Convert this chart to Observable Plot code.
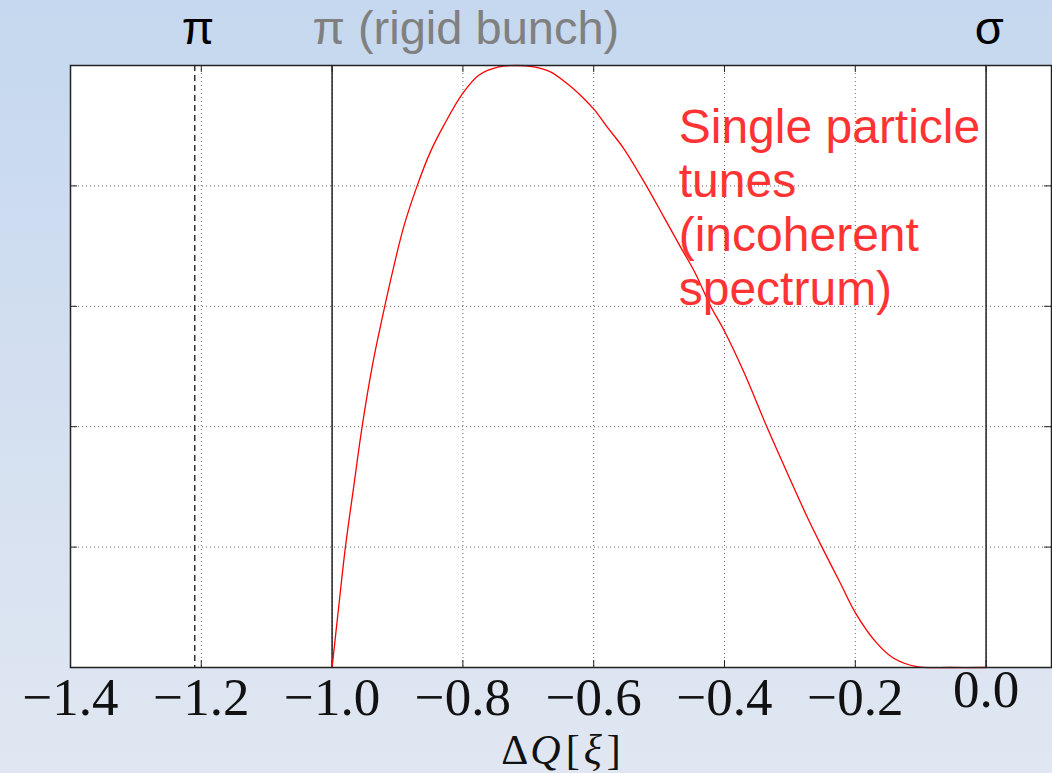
<!DOCTYPE html>
<html>
<head>
<meta charset="utf-8">
<script src="https://cdn.jsdelivr.net/npm/d3@7"></script>
<script src="https://cdn.jsdelivr.net/npm/@observablehq/plot@0.6"></script>
<style>
  html, body { margin: 0; padding: 0; }
  body {
    width: 1052px; height: 773px; overflow: hidden;
    background: linear-gradient(to bottom, #c5d8ef 0%, #d3dff0 50%, #e0e7f2 100%);
  }
</style>
</head>
<body>
<div id="chart"></div>
<script>
// Red curve: incoherent spectrum (single particle tunes)
const dq = [-1.0, -0.9899, -0.9797, -0.967, -0.9541, -0.9388, -0.9235, -0.9058, -0.8905, -0.870,
  -0.8497, -0.829, -0.8003, -0.7757, -0.7451, -0.7171, -0.6917, -0.6662, -0.6407, -0.6152,
  -0.5985, -0.5795, -0.5541, -0.5194, -0.4929, -0.4674, -0.4445, -0.4216, -0.4012, -0.3706,
  -0.3349, -0.2992, -0.2737, -0.2508, -0.2228, -0.1994, -0.1667, -0.1413, -0.1055, -0.0546, 0.0];
const density = [0, 0.101, 0.1996, 0.300, 0.400, 0.4995, 0.580, 0.6656, 0.732, 0.800,
  0.8565, 0.9009, 0.9535, 0.9839, 0.9977, 1.0, 0.9977, 0.9894, 0.970, 0.9452,
  0.9258, 0.898, 0.862, 0.800, 0.7486, 0.6988, 0.6546, 0.601, 0.561, 0.4912,
  0.3989, 0.3114, 0.2504, 0.1996, 0.140, 0.090, 0.040, 0.0153, 0.0013, 0, 0];

// Mode lines
const solidModes = [-1.0, 0.0];
const dashedModes = [-1.21];

// Top labels
const topLabels = ["π", "π (rigid bunch)", "σ"];
const topLabelX = [-1.205, -1.03, 0.005];
const topLabelColor = ["#000000", "#808080", "#000000"];
const topLabelAnchor = ["middle", "start", "middle"];

// Annotation
const noteText = "Single particle\ntunes\n(incoherent\nspectrum)";
const noteX = -0.47;
const noteY = 0.934;

// Axis ticks
const xTicks = [-1.4, -1.2, -1.0, -0.8, -0.6, -0.4, -0.2, 0.0];
const xNegTicks = [-1.4, -1.2, -1.0, -0.8, -0.6, -0.4, -0.2];
const xZeroTick = [0.0];
const yTicks = [0.2, 0.4, 0.6, 0.8];
const xLabel = "ΔQ[ξ]";

const curve = dq.map((x, i) => ({x, y: density[i]}));
const tops = topLabels.map((t, i) => ({t, x: topLabelX[i], c: topLabelColor[i], a: topLabelAnchor[i]}));

const xMin = -1.4, xMax = 0.1;
const tickLenX = 0.0107; // inward tick length in x units
const tickLenY = 0.0116; // inward tick length in y units

const serif = "'Liberation Serif', 'DejaVu Serif', serif";
const sans = "'Liberation Sans', Arial, sans-serif";

const plot = Plot.plot({
  width: 1052,
  height: 773,
  marginLeft: 70,
  marginRight: 1,
  marginTop: 65,
  marginBottom: 106,
  style: {background: "transparent", overflow: "visible"},
  x: {domain: [xMin, xMax], axis: null},
  y: {domain: [0, 1], axis: null},
  marks: [
    Plot.frame({fill: "white", stroke: "none"}),
    Plot.gridX(xTicks, {stroke: "#000", strokeOpacity: 0.75, strokeDasharray: "1,3", strokeWidth: 0.8}),
    Plot.gridY(yTicks, {stroke: "#000", strokeOpacity: 0.75, strokeDasharray: "1,3", strokeWidth: 0.8}),
    // inward ticks
    Plot.ruleX(xTicks, {y1: 0, y2: tickLenY, stroke: "#222"}),
    Plot.ruleX(xTicks, {y1: 1, y2: 1 - tickLenY, stroke: "#222"}),
    Plot.ruleY(yTicks, {x1: xMin, x2: xMin + tickLenX, stroke: "#222"}),
    Plot.ruleY(yTicks, {x1: xMax, x2: xMax - tickLenX, stroke: "#222"}),
    // mode lines
    Plot.ruleX(solidModes, {stroke: "#222", strokeWidth: 1.5}),
    Plot.ruleX(dashedModes, {stroke: "#333", strokeWidth: 1.5, strokeDasharray: "6,4"}),
    // curve
    Plot.line(curve, {x: "x", y: "y", stroke: "#ff0000", strokeWidth: 1.3, curve: "catmull-rom"}),
    Plot.frame({stroke: "#222", strokeWidth: 1.5}),
    // top labels
    Plot.text(tops, {x: "x", text: "t", fill: "c", textAnchor: "start", frameAnchor: "top",
      dy: -22, lineAnchor: "bottom", fontSize: 47, fontFamily: sans,
      filter: d => d.a === "start"}),
    Plot.text(tops, {x: "x", text: "t", fill: "c", textAnchor: "middle", frameAnchor: "top",
      dy: -22, lineAnchor: "bottom", fontSize: 47, fontFamily: sans,
      filter: d => d.a === "middle"}),
    // annotation
    Plot.text([noteText], {x: noteX, y: noteY, text: d => d, fill: "#ff3333", textAnchor: "start",
      lineAnchor: "top", lineHeight: 1.12, fontSize: 48, fontFamily: sans}),
    // x axis tick labels
    Plot.axisX(xNegTicks, {tickSize: 0, tickPadding: 10, fontSize: 53, fontFamily: serif,
      tickFormat: d => "−" + Math.abs(d).toFixed(1), fill: "#111", label: null}),
    Plot.axisX(xZeroTick, {tickSize: 0, tickPadding: 2, fontSize: 53, fontFamily: serif,
      tickFormat: d => d.toFixed(1), fill: "#111", label: null}),
    // x axis label
    Plot.text([xLabel], {frameAnchor: "bottom", text: d => d, dy: 96, lineAnchor: "bottom",
      fontSize: 42, fontFamily: serif, fill: "#111", className: "xlabel"})
  ]
});

document.getElementById("chart").appendChild(plot);

// Italicize math variables in the axis label (Q and ξ), keeping Δ and brackets upright
const lbl = plot.querySelector(".xlabel text");
if (lbl) {
  const parts = [["Δ", "normal", 0], ["Q", "italic", 2], ["[", "normal", 5], ["ξ", "italic", 4], ["]", "normal", 5]];
  lbl.textContent = "";
  for (const [s, st, dx] of parts) {
    const ts = document.createElementNS("http://www.w3.org/2000/svg", "tspan");
    ts.textContent = s;
    ts.setAttribute("font-style", st);
    if (dx) ts.setAttribute("dx", dx);
    lbl.appendChild(ts);
  }
}
</script>
</body>
</html>
